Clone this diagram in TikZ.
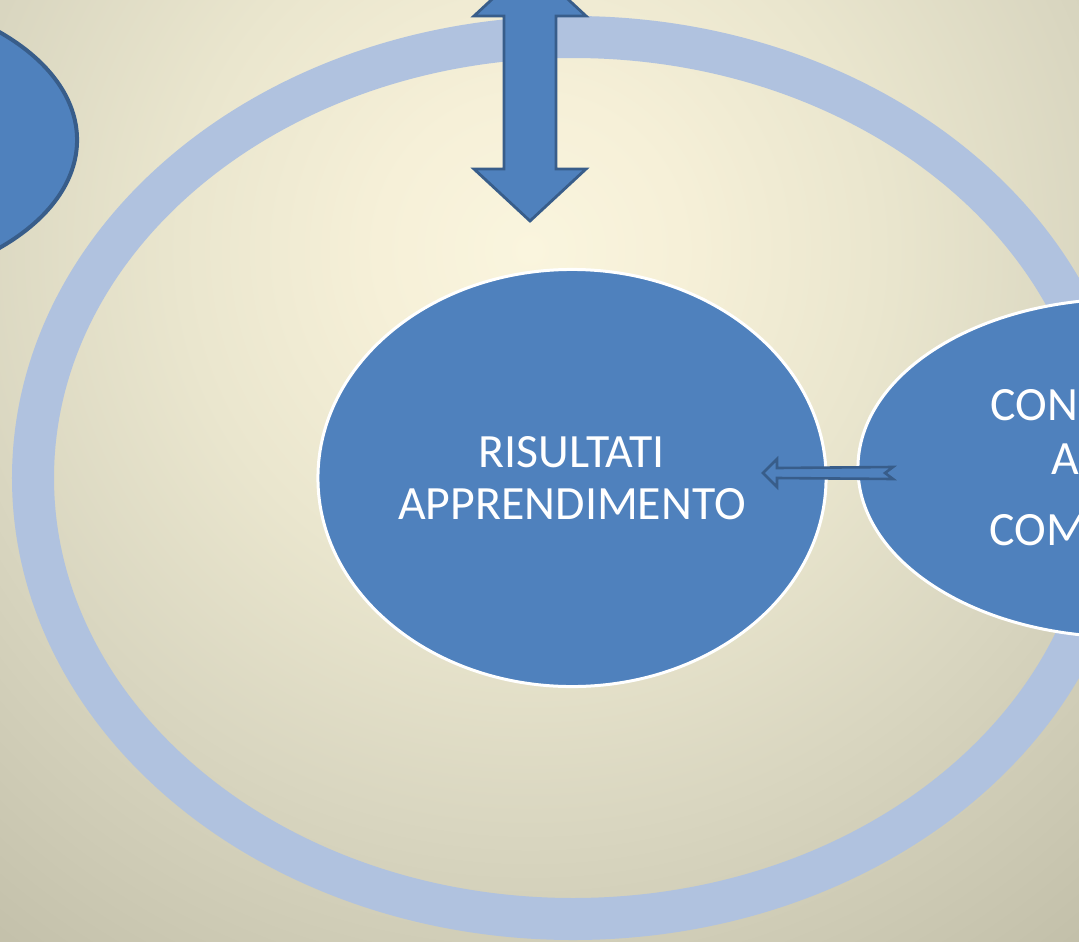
\documentclass[tikz,border=0pt]{standalone}
\usepackage{fontspec}
\setmainfont{Carlito}
\usetikzlibrary{shapes.geometric}

\definecolor{bgin}{HTML}{FAF5DE}
\definecolor{bginner}{HTML}{F6F0D8}
\definecolor{bgmid}{HTML}{EAE6CE}
\definecolor{bgouter}{HTML}{D9D6C0}
\definecolor{bgout}{HTML}{C3C0AA}
\definecolor{ringblue}{HTML}{B0C2DF}
\definecolor{blobblue}{HTML}{4F81BD}
\definecolor{arrowedge}{HTML}{385D8A}

% 25bp = 700px on the canvas
\pgfdeclareradialshading{bgglow}{\pgfpoint{0bp}{0bp}}{color(0bp)=(bgin); color(5.4bp)=(bginner); color(12.5bp)=(bgmid); color(20.7bp)=(bgouter); color(31.4bp)=(bgout); color(50bp)=(bgout)}

\begin{document}
\begin{tikzpicture}[x=0.025cm,y=-0.025cm,
  blob/.style={ellipse,fill=blobblue,draw=white,line width=0.075cm,inner sep=0pt,
    text=white,align=center,font=\fontsize{34}{37}\selectfont},
  blockarrow/.style={fill=blobblue,draw=arrowedge,line width=0.07cm,line join=miter}]
\useasboundingbox (0,0) rectangle (1079,941);
\clip (0,0) rectangle (1079,941);
\shade[shading=bgglow] (-170,-450) rectangle (1230,950);
% ring
\draw[ringblue,line width=1.05cm] (573,478) ellipse[x radius=540,y radius=441];
% nodes
\node[blob,draw=arrowedge,line width=0.1cm,minimum width=12.7cm,minimum height=7.5cm] (context) at (-177,140) {};
\node[blob,minimum width=12.7cm,minimum height=10.425cm] (result) at (572,478) {RISULTATI\\APPRENDIMENTO};
\node[blob,minimum width=13.3cm,minimum height=8.45cm] (skills) at (1124,468) {CONOSCENZE\\[1.4pt]ABILITÀ\\[13.5pt]COMPETENZE};
% arrows
\draw[blockarrow] (530,-36) -- (586,16) -- (556,16) -- (556,169) -- (586,169) -- (530,221)
  -- (474,169) -- (504,169) -- (504,16) -- (474,16) -- cycle;
\draw[blockarrow,line width=0.065cm] (763,473) -- (777,459) -- (777,468) -- (893,467) -- (885,473)
  -- (893,479) -- (777,478) -- (777,487) -- cycle;
\end{tikzpicture}
\end{document}
